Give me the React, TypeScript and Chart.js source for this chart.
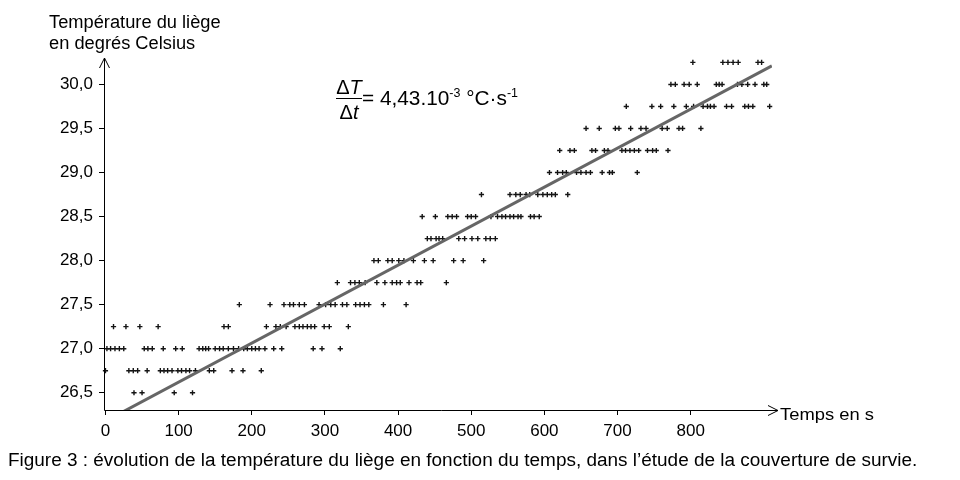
import React, { useEffect, useRef } from "react";
import { Chart, registerables } from "chart.js";

Chart.register(...registerables);

// Temperature levels (°C) of the thermometer readings
const temperatureLevels = [26.5, 26.75, 27.0, 27.25, 27.5, 27.75, 28.0, 28.25, 28.5, 28.75, 29.0, 29.25, 29.5, 29.75, 30.0, 30.25];

// Times (s) at which each level was recorded
const times2650 = [39, 50, 94, 119];
const times2675 = [0, 32, 38, 44, 57, 75, 80, 85, 91, 99, 104, 110, 115, 123, 142, 148, 173, 188, 213];
const times2700 = [2, 7, 13, 19, 25, 53, 58, 64, 79, 96, 105, 128, 133, 137, 141, 150, 156, 161, 168, 175, 182, 189, 194, 200, 205, 210, 218, 230, 241, 284, 296, 321];
const times2725 = [11, 28, 47, 72, 162, 168, 220, 233, 239, 247, 259, 265, 270, 276, 281, 286, 299, 306, 332];
const times2750 = [183, 225, 244, 252, 257, 265, 272, 292, 301, 308, 314, 324, 330, 342, 348, 354, 360, 380, 411];
const times2775 = [317, 335, 341, 347, 355, 371, 382, 392, 398, 403, 415, 426, 431, 466];
const times2800 = [367, 373, 386, 392, 401, 408, 421, 436, 448, 476, 489, 517];
const times2825 = [440, 445, 452, 456, 461, 483, 491, 501, 509, 520, 526, 533];
const times2850 = [433, 451, 468, 474, 480, 495, 500, 506, 527, 536, 542, 547, 553, 558, 564, 568, 581, 586, 593];
const times2875 = [514, 553, 561, 567, 575, 580, 591, 598, 604, 610, 615, 632];
const times2900 = [607, 618, 625, 630, 644, 650, 657, 663, 679, 689, 693, 727];
const times2925 = [621, 635, 641, 665, 670, 682, 687, 706, 711, 717, 723, 729, 741, 748, 753, 769];
const times2950 = [657, 675, 697, 702, 718, 732, 739, 761, 768, 784, 789, 814];
const times2975 = [712, 747, 759, 777, 794, 804, 817, 823, 827, 832, 849, 856, 874, 879, 885, 908];
const times3000 = [773, 779, 791, 798, 809, 835, 839, 843, 864, 870, 878, 888, 900, 904];
const times3025 = [803, 844, 851, 858, 865, 892, 897];

const timesByLevel = [
  times2650, times2675, times2700, times2725, times2750, times2775, times2800, times2825,
  times2850, times2875, times2900, times2925, times2950, times2975, times3000, times3025,
];

// Regression line (slope 4,43.10^-3 °C/s)
const fitTimes = [20, 911];
const fitTemps = [26.266, 30.21];

// Axis ticks
const xTickValues = [0, 100, 200, 300, 400, 500, 600, 700, 800];
const yTickValues = [26.5, 27.0, 27.5, 28.0, 28.5, 29.0, 29.5, 30.0];

const FONT = '"Liberation Sans", Arial, Helvetica, sans-serif';

const axesPlugin = {
  id: "axesArrows",
  afterDraw(chart: any) {
    const { ctx, chartArea: a } = chart;
    const x0 = Math.round(a.left) + 0.5;
    const y0 = Math.round(a.bottom) + 0.5;
    ctx.save();
    ctx.strokeStyle = "#000";
    ctx.lineWidth = 1;
    ctx.beginPath();
    // y axis with arrow
    ctx.moveTo(x0, y0);
    ctx.lineTo(x0, a.top);
    ctx.moveTo(x0 - 5, a.top + 10);
    ctx.lineTo(x0, a.top);
    ctx.lineTo(x0 + 5, a.top + 10);
    // x axis with arrow
    const xe = a.right + 6;
    ctx.moveTo(x0, y0);
    ctx.lineTo(xe, y0);
    ctx.moveTo(xe - 10, y0 - 5);
    ctx.lineTo(xe, y0);
    ctx.lineTo(xe - 10, y0 + 5);
    ctx.stroke();
    ctx.restore();
  },
};

export default function App() {
  const canvasRef = useRef<HTMLCanvasElement | null>(null);

  useEffect(() => {
    if (!canvasRef.current) return;
    const points: { x: number; y: number }[] = [];
    timesByLevel.forEach((times, i) => {
      times.forEach((t) => points.push({ x: t, y: temperatureLevels[i] }));
    });
    const fit = fitTimes.map((t, i) => ({ x: t, y: fitTemps[i] }));

    const chart = new Chart(canvasRef.current, {
      type: "scatter",
      data: {
        datasets: [
          {
            type: "line",
            data: fit,
            borderColor: "#666666",
            borderWidth: 3,
            pointRadius: 0,
            fill: false,
            clip: 0,
            order: 0,
          } as any,
          {
            type: "scatter",
            data: points,
            pointStyle: "cross",
            pointRadius: 2.6,
            borderWidth: 1.4,
            borderColor: "#141414",
            backgroundColor: "#141414",
            clip: false,
            order: 1,
          } as any,
        ],
      },
      options: {
        animation: false,
        responsive: false,
        layout: { padding: { top: 58, right: 188, left: 0, bottom: 0 } },
        plugins: { legend: { display: false }, tooltip: { enabled: false } },
        scales: {
          x: {
            type: "linear",
            min: -2,
            max: 911.2,
            border: { display: false },
            grid: { display: true, drawOnChartArea: false, drawTicks: true, tickLength: 5, color: "#000" },
            ticks: { color: "#000", font: { family: FONT, size: 17 }, padding: 6, maxRotation: 0 },
            afterBuildTicks: (scale: any) => {
              scale.ticks = xTickValues.map((v) => ({ value: v }));
            },
            afterFit: (scale: any) => {
              scale.height = 70;
            },
          },
          y: {
            type: "linear",
            min: 26.304,
            max: 30.3,
            border: { display: false },
            grid: { display: true, drawOnChartArea: false, drawTicks: true, tickLength: 5, color: "#000" },
            ticks: {
              color: "#000",
              font: { family: FONT, size: 17 },
              padding: 6,
              callback: (v: any) => Number(v).toFixed(1).replace(".", ","),
            },
            afterBuildTicks: (scale: any) => {
              scale.ticks = yTickValues.map((v) => ({ value: v }));
            },
            afterFit: (scale: any) => {
              scale.width = 104;
            },
          },
        },
      } as any,
      plugins: [axesPlugin],
    });
    return () => chart.destroy();
  }, []);

  const text: React.CSSProperties = {
    position: "absolute",
    fontFamily: FONT,
    color: "#000",
    lineHeight: 1,
    whiteSpace: "nowrap",
    transformOrigin: "0 0",
  };

  return (
    <div style={{ position: "fixed", left: 0, top: 0, width: 960, height: 480, background: "#fff" }}>
      <canvas ref={canvasRef} width={960} height={480} style={{ position: "absolute", left: 0, top: 0 }} />
      <div style={{ ...text, left: 49, top: 13, fontSize: 18, transform: "scaleX(1.015)" }}>Température du liège</div>
      <div style={{ ...text, left: 49, top: 34.3, fontSize: 18, transform: "scaleX(1.015)" }}>en degrés Celsius</div>

      <div style={{ ...text, left: 336, top: 77, width: 26, textAlign: "center", fontSize: 20 }}>
        Δ<i>T</i>
      </div>
      <div style={{ position: "absolute", left: 336, top: 97.5, width: 26, height: 1.3, background: "#000" }} />
      <div style={{ ...text, left: 336, top: 101.5, width: 26, textAlign: "center", fontSize: 20 }}>
        Δ<i>t</i>
      </div>
      <div style={{ ...text, left: 362, top: 87.5, fontSize: 20, transform: "scaleX(1.04)" }}>
        = 4,43.10
        <span style={{ fontSize: 12, position: "relative", top: -8 }}>-3</span>
        {" "}°C·s
        <span style={{ fontSize: 12, position: "relative", top: -8 }}>-1</span>
      </div>

      <div style={{ ...text, left: 780, top: 405.6, fontSize: 17, transform: "scaleX(1.08)" }}>Temps en s</div>
      <div style={{ ...text, left: 8, top: 450.8, fontSize: 18, transform: "scaleX(1.053)" }}>
        Figure 3 : évolution de la température du liège en fonction du temps, dans l’étude de la couverture de survie.
      </div>
    </div>
  );
}
